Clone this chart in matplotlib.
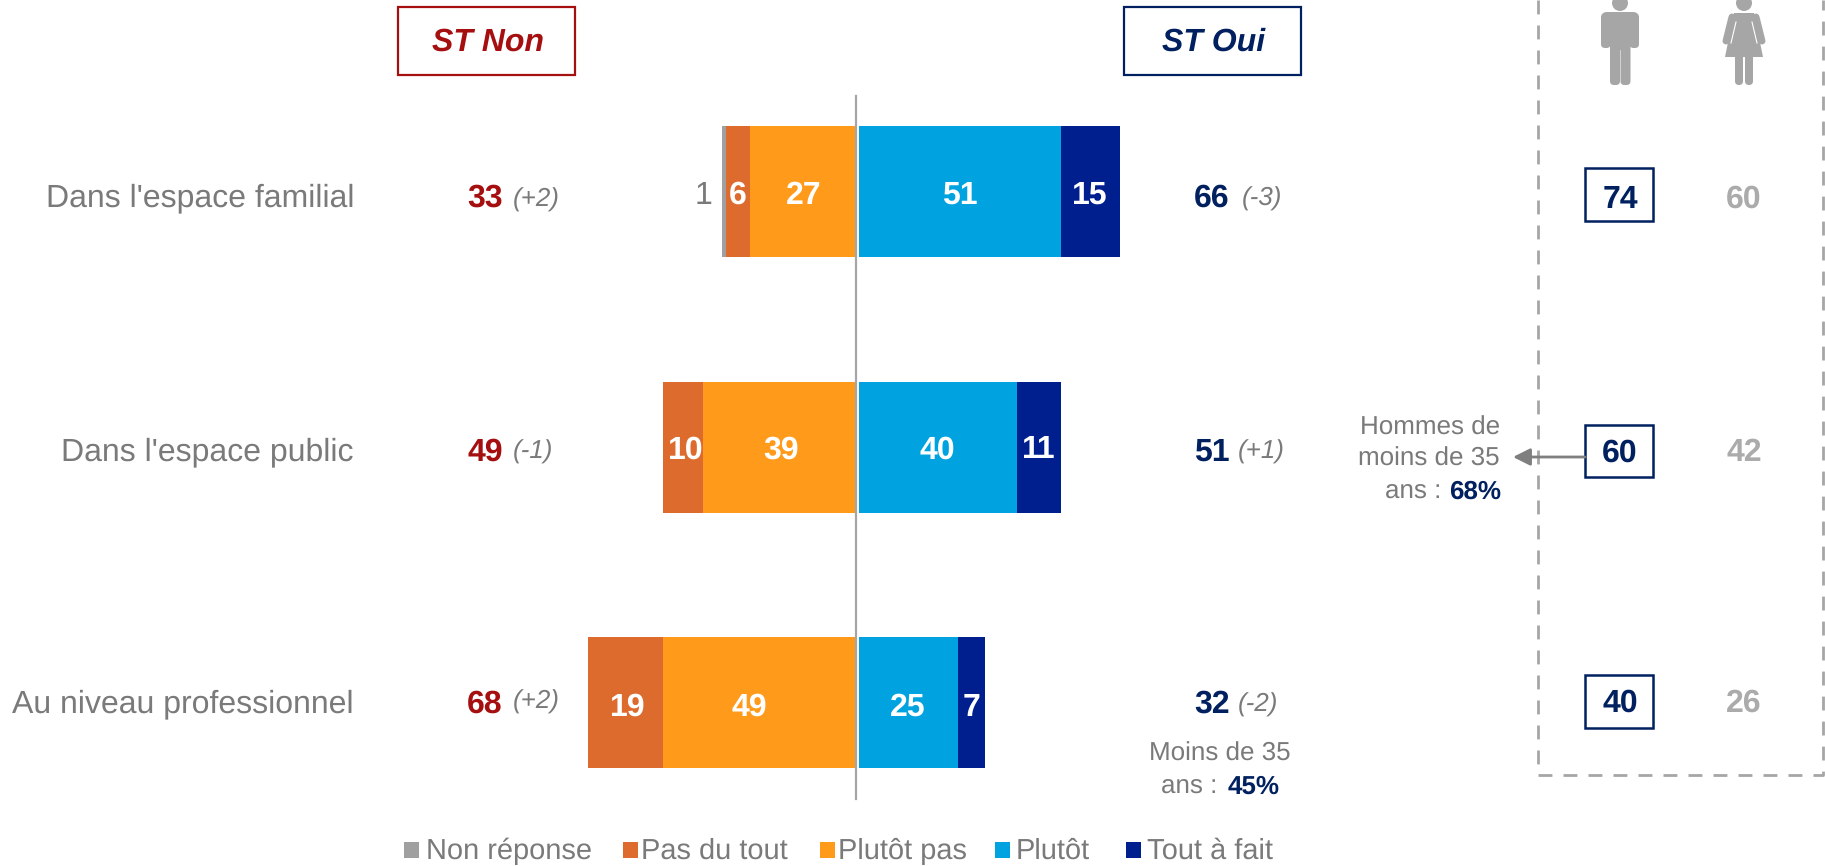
# diverging bars, ST Non / ST Oui, with men / women columns on the right
import matplotlib
matplotlib.use("Agg")
import matplotlib.pyplot as plt
from matplotlib.patches import Rectangle, Circle, FancyBboxPatch, Polygon

plt.rcParams['font.family'] = ['Liberation Sans', 'DejaVu Sans']
plt.rcParams['text.hinting'] = 'no_hinting'
plt.rcParams['text.hinting_factor'] = 1

W = 1825
H = 866

categories = ["Dans l'espace familial", "Dans l'espace public", "Au niveau professionnel"]
non_reponse = [1, 0, 0]
pas_du_tout = [6, 10, 19]
plutot_pas = [27, 39, 49]
plutot = [51, 40, 25]
tout_a_fait = [15, 11, 7]

st_non = [33, 49, 68]
st_non_diff = ["(+2)", "(-1)", "(+2)"]
st_oui = [66, 51, 32]
st_oui_diff = ["(-3)", "(+1)", "(-2)"]
hommes = [74, 60, 40]
femmes = [60, 42, 26]

legend_labels = ["Non réponse", "Pas du tout", "Plutôt pas", "Plutôt", "Tout à fait"]

GREY = "#a0a0a0"
DARK_ORANGE = "#dd6b2e"
ORANGE = "#ff9a1a"
BLUE = "#00a3e0"
NAVY_BAR = "#001f8f"
NAVY = "#002060"
RED = "#a50f0f"
TEXT = "#7a7a7a"
LIGHT = "#a6a6a6"

fig = plt.figure(figsize=(W / 100, H / 100), dpi=100)

# axes for the bars: x in %, y in rows
zero = 857
unit = 3.96
row0 = 191.5
step = 255.5
ax = fig.add_axes([0, 0, 1, 1])
ax.set_xlim(-zero / unit, (W - zero) / unit)
ax.set_ylim((H - row0) / step, -row0 / step)
ax.axis("off")

# overlay in pixels for all the text and boxes
px = fig.add_axes([0, 0, 1, 1])
px.set_xlim(0, W)
px.set_ylim(H, 0)
px.axis("off")
px.patch.set_alpha(0)

rows = list(range(len(categories)))
bar_h = 131 / step
label_dy = [0.016, 0.012, 0.02]

# left side goes outward from zero, the labels are not all centred in the original
left = [0, 0, 0]
left_series = [(plutot_pas, ORANGE, [0, 0.2, -2.6]), (pas_du_tout, DARK_ORANGE, [0, 0.7, 0.5]), (non_reponse, GREY, [0, 0, 0])]
for vals, col, shift in left_series:
    ax.barh(rows, [-v for v in vals], left=left, height=bar_h, color=col, linewidth=0)
    for i in rows:
        if vals[i] > 1:
            ax.text(left[i] - vals[i] / 2 + shift[i], i + label_dy[i], str(vals[i]), color="white", fontsize=22.7,
                    fontweight="bold", ha="center", va="center")
    left = [l - v for l, v in zip(left, vals)]
ax.text(-38.7, label_dy[0], str(non_reponse[0]), color=TEXT, fontsize=22.7, ha="center", va="center")

# right side
start = [0.4, 0.4, 0.4]
for vals, col in [(plutot, BLUE), (tout_a_fait, NAVY_BAR)]:
    ax.barh(rows, vals, left=start, height=bar_h, color=col, linewidth=0)
    for i in rows:
        ax.text(start[i] + vals[i] / 2, i + label_dy[i], str(vals[i]), color="white", fontsize=22.7,
                fontweight="bold", ha="center", va="center")
    start = [s + v for s, v in zip(start, vals)]

px.plot([856.5, 856.5], [96, 799], color=LIGHT, linewidth=1.6)

# row labels and totals
text_y = [198, 452, 704]
non_dy = [2, 0, -2]
oui_dy = [1, 0, 1]
diff_x_non = [513, 513, 513]
diff_x_oui = [1242, 1238, 1238]
for i in rows:
    y = text_y[i]
    px.text(354, y, categories[i], color=TEXT, fontsize=22.7, ha="right", va="center")
    px.text(485, y, str(st_non[i]), color=RED, fontsize=22.7, fontweight="bold", ha="center", va="center")
    px.text(diff_x_non[i], y + non_dy[i], st_non_diff[i], color=TEXT, fontsize=18.8, style="italic", ha="left", va="center")
    px.text(1212, y, str(st_oui[i]), color=NAVY, fontsize=22.7, fontweight="bold", ha="center", va="center")
    px.text(diff_x_oui[i], y + oui_dy[i], st_oui_diff[i], color=TEXT, fontsize=18.8, style="italic", ha="left", va="center")

# header boxes
px.add_patch(Rectangle((398, 6.5), 177, 68, fill=False, edgecolor=RED, linewidth=1.6))
px.text(488, 42, "ST Non", color=RED, fontsize=22.7, fontweight="bold", style="italic", ha="center", va="center")
px.add_patch(Rectangle((1124, 6.5), 177, 68, fill=False, edgecolor=NAVY, linewidth=1.6))
px.text(1214, 42, "ST Oui", color=NAVY, fontsize=22.7, fontweight="bold", style="italic", ha="center", va="center")

# dashed panel, top is cut off by the picture
px.plot([1538.5, 1538.5, 1823, 1823], [0, 775, 775, 0], color=LIGHT, linewidth=2, linestyle=(0, (5, 4)),
        clip_on=False)

# men / women columns
box_y = [168, 425, 674.5]
box_h = [53, 52, 53]
gender_y = [199.5, 453, 703]
for i in rows:
    px.add_patch(Rectangle((1585.5, box_y[i]), 68, box_h[i], fill=False, edgecolor=NAVY, linewidth=1.8))
    px.text(1620, gender_y[i], str(hommes[i]), color=NAVY, fontsize=22.7, fontweight="bold",
            ha="center", va="center")
    px.text(1744, gender_y[i], str(femmes[i]), color="#ababab", fontsize=22.7, fontweight="bold",
            ha="center", va="center")


def rounded(x0, y0, w, h, r=4):
    px.add_patch(FancyBboxPatch((x0 + r, y0 + r), w - 2 * r, h - 2 * r, boxstyle="round,pad=%d" % r,
                                facecolor=LIGHT, edgecolor="none"))


# man icon
px.add_patch(Circle((1620, 3), 8, facecolor=LIGHT, edgecolor="none"))
rounded(1601, 12, 38, 22, 6)
rounded(1601, 14, 9.5, 34, 4)
rounded(1629.5, 14, 9.5, 34, 4)
rounded(1610, 20, 20, 30, 1)
rounded(1610, 40, 10, 45)
rounded(1620.5, 40, 10, 45)

# woman icon
px.add_patch(Circle((1744, 3), 8, facecolor=LIGHT, edgecolor="none"))
px.add_patch(Polygon([(1734, 13), (1754, 13), (1763, 57), (1725, 57)], facecolor=LIGHT, edgecolor="none"))
px.plot([1732, 1726], [17, 41], color=LIGHT, linewidth=5, solid_capstyle="round")
px.plot([1756, 1762], [17, 41], color=LIGHT, linewidth=5, solid_capstyle="round")
px.plot([1736, 1731], [22, 43], color="white", linewidth=0.8)
px.plot([1752, 1757], [22, 43], color="white", linewidth=0.8)
rounded(1735, 50, 8, 35, 4)
rounded(1745, 50, 8, 35, 4)

# side notes
px.annotate("", xy=(1513, 457), xytext=(1585, 457),
            arrowprops=dict(arrowstyle="-|>", color="#7f7f7f", linewidth=2, shrinkA=0, shrinkB=0,
                            mutation_scale=26))
px.text(1500, 428, "Hommes de", color=TEXT, fontsize=18.9, ha="right", va="center")
px.text(1500, 459, "moins de 35", color=TEXT, fontsize=18.9, ha="right", va="center")
px.text(1449, 492, "ans : ", color=TEXT, fontsize=18.9, ha="right", va="center")
px.text(1501, 492, "68%", color=NAVY, fontsize=18.9, fontweight="bold", ha="right", va="center")

px.text(1220, 754, "Moins de 35", color=TEXT, fontsize=19, ha="center", va="center")
px.text(1193, 787, "ans : ", color=TEXT, fontsize=19, ha="center", va="center")
px.text(1280, 787, "45%", color=NAVY, fontsize=19, fontweight="bold", ha="right", va="center")

# legend
leg_colors = [GREY, DARK_ORANGE, ORANGE, BLUE, NAVY_BAR]
leg_square = [404, 623, 820, 995, 1126]
leg_text = [426, 641, 838, 1016, 1147]
for i in range(len(legend_labels)):
    px.add_patch(Rectangle((leg_square[i], 842), 15, 16, facecolor=leg_colors[i], edgecolor="none"))
    px.text(leg_text[i], 851, legend_labels[i], color=TEXT, fontsize=21, ha="left", va="center")

fig.savefig("out.png", dpi=100)
